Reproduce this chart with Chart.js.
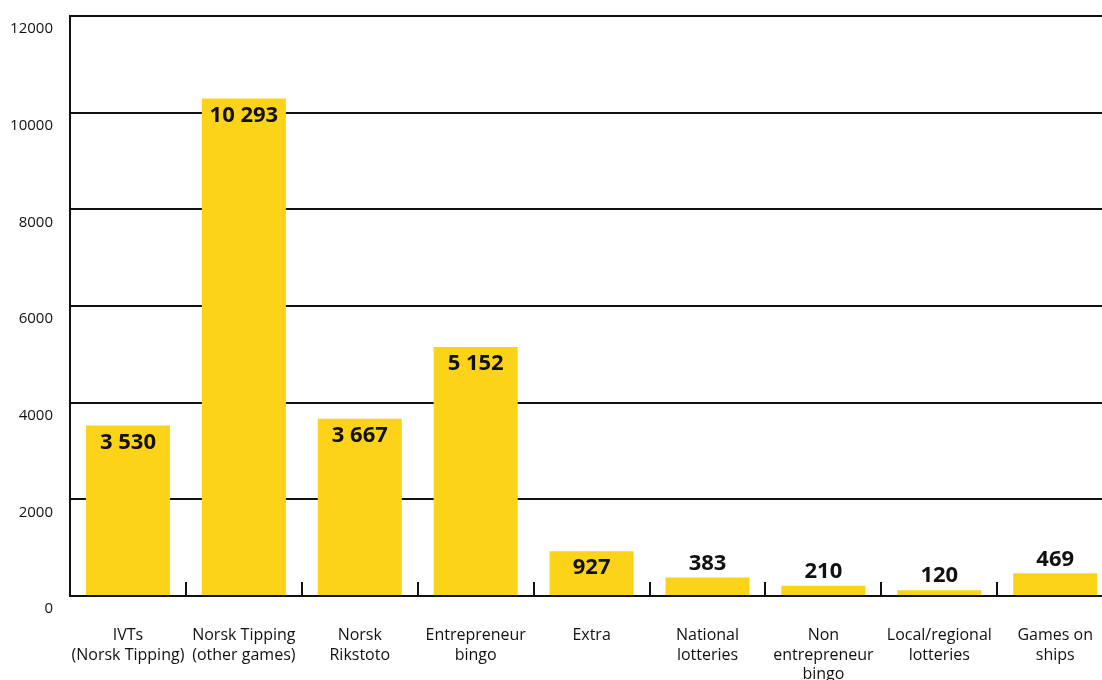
<!DOCTYPE html>
<html>
<head>
<meta charset="utf-8">
<script src="https://cdn.jsdelivr.net/npm/chart.js@4/dist/chart.umd.min.js"></script>
<style>
  html, body { margin: 0; padding: 0; background: #fff; overflow: hidden; }
  #wrap { width: 1123px; height: 690px; margin-top: -10px; }
</style>
</head>
<body>
<div id="wrap"><canvas id="chart" width="1123" height="690"></canvas></div>
<script>
// ── Data ──
const categories = [
    ['IVTs', '(Norsk Tipping)'],
    ['Norsk Tipping', '(other games)'],
    ['Norsk', 'Rikstoto'],
    ['Entrepreneur', 'bingo'],
    ['Extra'],
    ['National', 'lotteries'],
    ['Non', 'entrepreneur', 'bingo'],
    ['Local/regional', 'lotteries'],
    ['Games on', 'ships'],
];
const values = [3530, 10293, 3667, 5152, 927, 383, 210, 120, 469];
const yTicks = [0, 2000, 4000, 6000, 8000, 10000, 12000];

const YELLOW = '#fcd318';
const INK = '#111';

function formatValue(n) {
    return String(n).replace(/\B(?=(\d{3})+(?!\d))/g, ' ');
}

// ── Value labels + category separator ticks ──
const barExtras = {
    id: 'barExtras',
    afterDatasetsDraw(chart) {
        const { ctx, chartArea, scales } = chart;
        const x = scales.x;

        // small separator ticks sitting on the base line
        ctx.save();
        ctx.strokeStyle = INK;
        ctx.lineWidth = 2;
        for (let i = 0; i < values.length - 1; i++) {
            const bx = Math.round((x.getPixelForValue(i) + x.getPixelForValue(i + 1)) / 2);
            ctx.beginPath();
            ctx.moveTo(bx, chartArea.bottom);
            ctx.lineTo(bx, chartArea.bottom - 14);
            ctx.stroke();
        }

        // values
        ctx.font = "bold 22px 'Open Sans', sans-serif";
        ctx.fillStyle = INK;
        ctx.textAlign = 'center';
        ctx.textBaseline = 'middle';
        chart.getDatasetMeta(0).data.forEach((bar, i) => {
            const h = bar.base - bar.y;
            const ty = h > 35 ? bar.y + 17 : bar.y - 14;
            ctx.fillText(formatValue(values[i]), bar.x, ty);
        });
        ctx.restore();
    }
};

new Chart(document.getElementById('chart'), {
    type: 'bar',
    data: {
        labels: categories,
        datasets: [{
            data: values,
            backgroundColor: YELLOW,
            borderWidth: 0,
            categoryPercentage: 1,
            barPercentage: 0.725,
        }]
    },
    options: {
        responsive: false,
        animation: false,
        layout: { padding: { top: 5, right: 0, left: 0, bottom: 0 } },
        plugins: {
            legend: { display: false },
            tooltip: { enabled: false }
        },
        scales: {
            x: {
                grid: { display: false, drawTicks: false },
                border: { display: true, color: INK, width: 2 },
                ticks: {
                    color: INK,
                    padding: 30,
                    maxRotation: 0,
                    autoSkip: false,
                    font: { family: "'Open Sans', sans-serif", size: 16, lineHeight: 1.22 }
                },
                afterFit: s => { s.height = 84; }
            },
            y: {
                min: 0,
                max: 12000,
                afterBuildTicks: s => { s.ticks = yTicks.map(v => ({ value: v })); },
                grid: { color: INK, lineWidth: 2, drawTicks: false },
                border: { display: true, color: INK, width: 2 },
                ticks: {
                    color: INK,
                    padding: 17,
                    labelOffset: 13,
                    callback: v => String(v),
                    font: { family: "'Open Sans', sans-serif", size: 15 }
                },
                afterFit: s => { s.width = 70; }
            }
        }
    },
    plugins: [barExtras]
});
</script>
</body>
</html>
